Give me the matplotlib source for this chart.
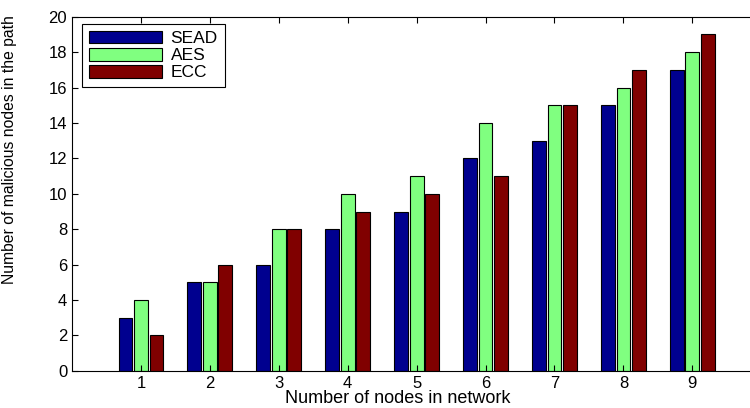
import numpy as np
import matplotlib
matplotlib.use("Agg")
import matplotlib.pyplot as plt

plt.rcParams['font.family'] = ['Liberation Sans', 'DejaVu Sans']

nodes = [1, 2, 3, 4, 5, 6, 7, 8, 9]
sead = [3, 5, 6, 8, 9, 12, 13, 15, 17]
aes = [4, 5, 8, 10, 11, 14, 15, 16, 18]
ecc = [2, 6, 8, 9, 10, 11, 15, 17, 19]

series = [("SEAD", sead, "#00008F"), ("AES", aes, "#80FF80"), ("ECC", ecc, "#800000")]

fig = plt.figure(figsize=(7.5, 4.08), dpi=100)
ax = fig.add_axes([0.096, 0.091, 0.919, 0.868])

x = np.array(nodes)
step = 0.225
width = 0.2
for i, (name, vals, color) in enumerate(series):
    ax.bar(x + (i - 1) * step, vals, width, color=color, edgecolor="black",
           linewidth=0.8, label=name)

ax.set_xlim(0, 10)
ax.set_ylim(0, 20)
ax.set_xticks(nodes)
ax.set_yticks(range(0, 21, 2))
ax.tick_params(direction="in", top=True, right=False, labelsize=12, length=4)
ax.spines["right"].set_visible(False)
for s in ax.spines.values():
    s.set_linewidth(0.8)

ax.set_xlabel("Number of nodes in network", fontsize=13, labelpad=0)
ax.xaxis.set_label_coords(0.472, -0.055)
ax.set_ylabel("Number of malicious nodes in the path", fontsize=11.3)
ax.yaxis.set_label_coords(-0.08, 0.625)

leg = ax.legend(loc="upper left", bbox_to_anchor=(10 / 689, 1 - 7 / 354),
                borderaxespad=0, fontsize=12.5, fancybox=False, edgecolor="black",
                framealpha=1, handlelength=4.2, handleheight=0.75,
                labelspacing=0.1, borderpad=0.4, handletextpad=0.5)
leg.get_frame().set_linewidth(0.8)

fig.savefig("out.png", dpi=100)
